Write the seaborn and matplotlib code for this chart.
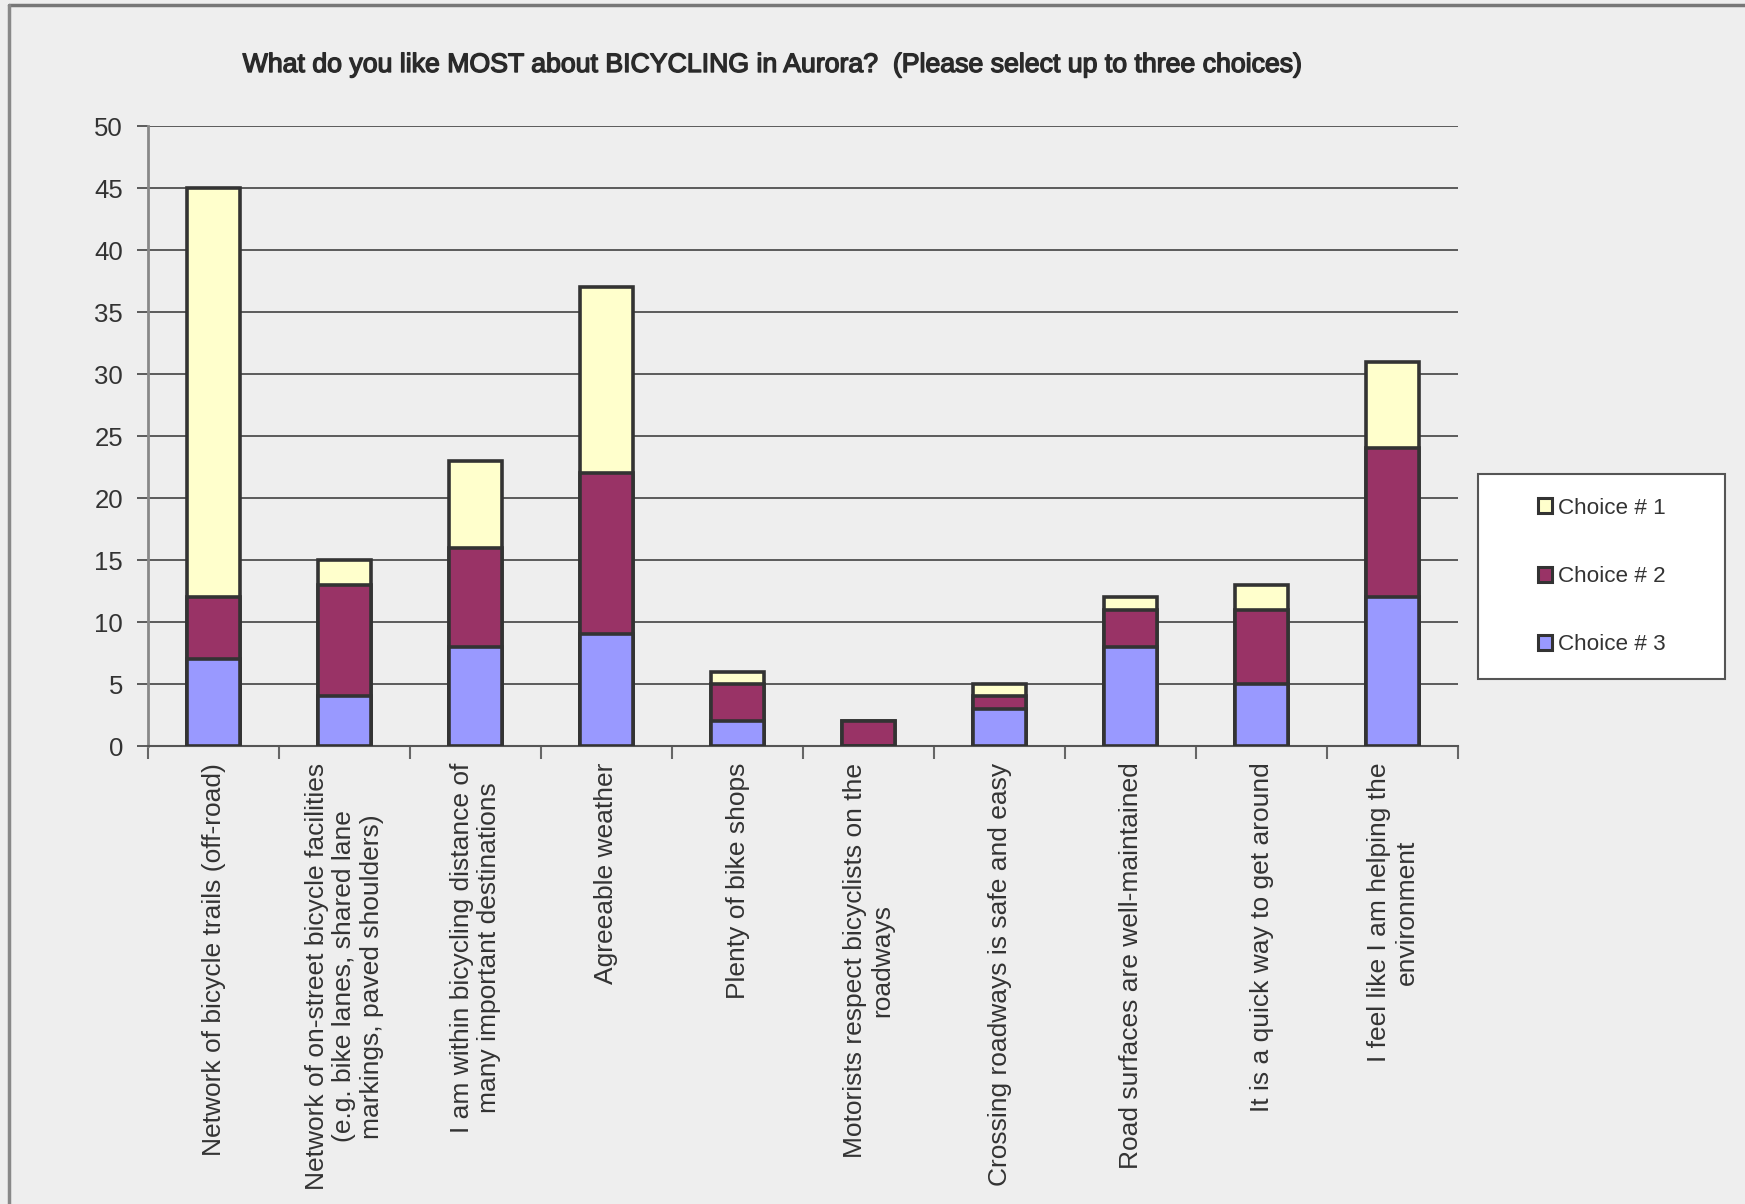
import matplotlib
matplotlib.use("Agg")
import matplotlib.pyplot as plt
from matplotlib.patches import Rectangle, Patch
from matplotlib.lines import Line2D
import matplotlib.patheffects as pe
import numpy as np
import pandas as pd
import seaborn as sns

# Survey answers, one entry per statement
categories = [
    "Network of bicycle trails (off-road)",
    "Network of on-street bicycle facilities\n(e.g. bike lanes, shared lane\nmarkings, paved shoulders)",
    "I am within bicycling distance of\nmany important destinations",
    "Agreeable weather",
    "Plenty of bike shops",
    "Motorists respect bicyclists on the\nroadways",
    "Crossing roadways is safe and easy",
    "Road surfaces are well-maintained",
    "It is a quick way to get around",
    "I feel like I am helping the\nenvironment",
]
choice1 = [33, 2, 7, 15, 1, 0, 1, 1, 2, 7]
choice2 = [5, 9, 8, 13, 3, 2, 1, 3, 6, 12]
choice3 = [7, 4, 8, 9, 2, 0, 3, 8, 5, 12]
series_names = ["Choice # 1", "Choice # 2", "Choice # 3"]
series_colors = ["#FFFFCC", "#993366", "#9999FF"]
y_ticks = [0, 5, 10, 15, 20, 25, 30, 35, 40, 45, 50]
title = "What do you like MOST about BICYCLING in Aurora?  (Please select up to three choices)"

sns.set_theme(style="white")
plt.rcParams["font.family"] = ["Liberation Sans", "DejaVu Sans"]

bg = "#EEEEEE"
txt = "#333333"
edge = "#333333"

df = pd.DataFrame({
    "item": categories,
    "c3": choice3,
    "c2": choice2,
    "c1": choice1,
})
df["top3"] = df["c3"]
df["top2"] = df["c3"] + df["c2"]
df["top1"] = df["c3"] + df["c2"] + df["c1"]

fig = plt.figure(figsize=(17.45, 12.04), dpi=100, facecolor=bg)
ax = fig.add_axes([148 / 1745, 1 - 746 / 1204, (1458 - 148) / 1745, (746 - 126) / 1204])
ax.set_facecolor(bg)

# Stack: draw cumulative totals from the top layer down
for col, color in zip(["top1", "top2", "top3"], series_colors):
    sns.barplot(data=df, x="item", y=col, order=categories, color=color,
                width=0.4, edgecolor=edge, linewidth=2.6, saturation=1,
                ax=ax, zorder=3)

ax.set_xlim(-0.5, len(categories) - 0.5)
ax.set_ylim(0, 50)
ax.set_yticks(y_ticks)
ax.set_yticklabels([str(v) for v in y_ticks], fontsize=18.5, color=txt)
ax.yaxis.grid(True, color="#333333", linewidth=1.1)
ax.set_axisbelow(True)
ax.set_xlabel("")
ax.set_ylabel("")

for s in ["top", "right"]:
    ax.spines[s].set_visible(False)
ax.spines["left"].set_color("#888888")
ax.spines["left"].set_linewidth(2)
ax.spines["bottom"].set_color("#555555")
ax.spines["bottom"].set_linewidth(1.5)

ax.tick_params(axis="y", which="major", direction="out", length=8, width=1.1,
               color="#333333", left=True, pad=10)
ax.set_xticks(range(len(categories)))
ax.set_xticklabels(categories, rotation=90, fontsize=19, color=txt,
                   ha="center", va="top", multialignment="center")
ax.tick_params(axis="x", which="major", length=0, pad=12)
ax.set_xticks(np.arange(-0.5, len(categories)), minor=True)
ax.tick_params(axis="x", which="minor", direction="out", length=9, width=1.5,
               color="#666666", bottom=True)

fig.text(771 / 1745, 1 - 65 / 1204, title, ha="center", va="center",
         fontsize=19.2, color="#2a2a2a",
         path_effects=[pe.withStroke(linewidth=1.0, foreground="#2a2a2a")])

# Outer chart frame (top and left edges)
fig.add_artist(Line2D([9 / 1745, 1], [1 - 5 / 1204, 1 - 5 / 1204],
                      color="#777777", linewidth=2.5, transform=fig.transFigure))
fig.add_artist(Line2D([9 / 1745, 9 / 1745], [0, 1 - 5 / 1204],
                      color="#888888", linewidth=2.5, transform=fig.transFigure))

# Legend box
bx0, bx1 = 1478 / 1745, 1725 / 1745
by0, by1 = 1 - 679 / 1204, 1 - 474 / 1204
fig.add_artist(Rectangle((bx0, by0), bx1 - bx0, by1 - by0, transform=fig.transFigure,
                         facecolor="white", edgecolor="#555555", linewidth=1.5, zorder=5))
handles = [Patch(facecolor=c, edgecolor=edge, linewidth=2.2) for c in series_colors]
leg = fig.legend(handles, series_names, loc="center",
                 bbox_to_anchor=((bx0 + bx1) / 2, (by0 + by1) / 2),
                 frameon=False, fontsize=16.2, handlelength=0.65, handleheight=0.65,
                 handletextpad=0.25, labelspacing=2.1)
leg.set_zorder(6)
for t in leg.get_texts():
    t.set_color(txt)

fig.savefig("out.png", dpi=100, facecolor=bg)
